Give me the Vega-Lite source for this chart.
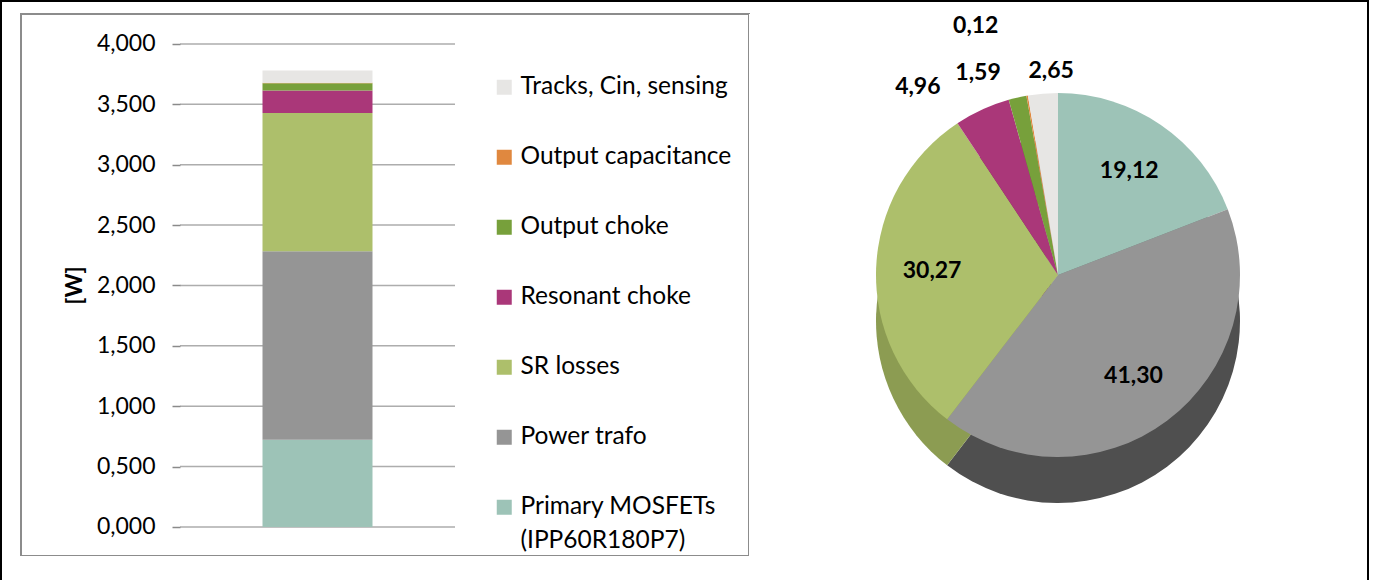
{
  "$schema": "https://vega.github.io/schema/vega-lite/v6.json",
  "background": "black",
  "padding": {"left": 2, "top": 2, "right": 2, "bottom": 0},
  "config": {
    "font": "Lato",
    "view": {"stroke": null},
    "style": {"guide-label": {"lineHeight": 34}},
    "locale": {"number": {"decimal": ",", "thousands": ".", "grouping": [3], "currency": ["", " €"]}}
  },
  "datasets": {
    "losses": [
      {"component": "Primary MOSFETs (IPP60R180P7)", "idx": 1, "loss": 0.723, "pct": 19.12},
      {"component": "Power trafo", "idx": 2, "loss": 1.561, "pct": 41.30},
      {"component": "SR losses", "idx": 3, "loss": 1.144, "pct": 30.27},
      {"component": "Resonant choke", "idx": 4, "loss": 0.187, "pct": 4.96},
      {"component": "Output choke", "idx": 5, "loss": 0.060, "pct": 1.59},
      {"component": "Output capacitance", "idx": 6, "loss": 0.005, "pct": 0.12},
      {"component": "Tracks, Cin, sensing", "idx": 7, "loss": 0.100, "pct": 2.65}
    ],
    "grid": [{"g": 0}, {"g": 0.5}, {"g": 1}, {"g": 1.5}, {"g": 2}, {"g": 2.5}, {"g": 3}, {"g": 3.5}, {"g": 4}],
    "none": []
  },
  "columns": 3,
  "spacing": 0,
  "bounds": "flush",
  "concat": [
    {"width": 19, "height": 12, "view": {"fill": "white", "stroke": null}, "data": {"name": "none"}, "mark": "rect", "encoding": {}},
    {"width": 728, "height": 12, "view": {"fill": "white", "stroke": null}, "data": {"name": "none"}, "mark": "rect", "encoding": {}},
    {"width": 618, "height": 12, "view": {"fill": "white", "stroke": null}, "data": {"name": "none"}, "mark": "rect", "encoding": {}},
    {"width": 19, "height": 542, "view": {"fill": "white", "stroke": null}, "data": {"name": "none"}, "mark": "rect", "encoding": {}},
    {
      "width": 728,
      "height": 542,
      "view": {"fill": "white", "stroke": "#8c8c8c", "strokeWidth": 2},
      "layer": [
        {
          "data": {"name": "grid"},
          "mark": {"type": "tick", "color": "#8a8a8a", "thickness": 1.5, "size": 275},
          "encoding": {
            "x": {"datum": "Total", "type": "nominal", "scale": {"paddingInner": 0, "paddingOuter": 0.82364, "align": 0.35099}, "axis": null},
            "y": {
              "field": "g", "type": "quantitative",
              "scale": {"domain": [-0.2402, 4.2484], "nice": false, "zero": false},
              "axis": {
                "values": [0, 0.5, 1, 1.5, 2, 2.5, 3, 3.5, 4],
                "format": ".3f",
                "offset": -159,
                "grid": false,
                "domain": false,
                "title": "[W]",
                "titleFontWeight": "bold",
                "titleFontSize": 23,
                "titleColor": "black",
                "titlePadding": 10,
                "labelFontSize": 23,
                "labelColor": "black",
                "labelPadding": 17,
                "tickSize": 8,
                "tickColor": "#8a8a8a",
                "tickWidth": 1.5
              }
            }
          }
        },
        {
          "data": {"name": "none"},
          "mark": {"type": "rule", "color": "#8a8a8a", "strokeWidth": 1.5},
          "encoding": {
            "x": {"datum": "Total", "type": "nominal", "bandPosition": 0},
            "y": {"datum": 0, "type": "quantitative"},
            "y2": {"datum": 4}
          }
        },
        {
          "data": {"name": "losses"},
          "mark": {"type": "bar", "width": {"band": 0.4}},
          "encoding": {
            "x": {"datum": "Total", "type": "nominal"},
            "y": {"field": "loss", "type": "quantitative", "stack": "zero"},
            "order": {"field": "idx", "type": "quantitative"},
            "color": {
              "field": "component", "type": "nominal",
              "scale": {
                "domain": ["Tracks, Cin, sensing", "Output capacitance", "Output choke", "Resonant choke", "SR losses", "Power trafo", "Primary MOSFETs (IPP60R180P7)"],
                "range": ["#e7e6e4", "#e0883f", "#77a03b", "#aa3779", "#adbf6b", "#959595", "#9dc3b7"]
              },
              "legend": {
                "orient": "none",
                "legendX": 490,
                "legendY": 73,
                "title": null,
                "symbolType": "square",
                "symbolSize": 225,
                "symbolStrokeWidth": 0,
                "labelFontSize": 24.5,
                "labelColor": "black",
                "labelOffset": 4,
                "labelLimit": 400,
                "rowPadding": 45,
                "labelExpr": "datum.label == 'Primary MOSFETs (IPP60R180P7)' ? ['Primary MOSFETs', '(IPP60R180P7)'] : datum.label"
              }
            }
          }
        }
      ]
    },
    {
      "width": 618,
      "height": 542,
      "view": {"fill": "white", "stroke": null},
      "data": {"name": "losses"},
      "encoding": {
        "theta": {"field": "loss", "type": "quantitative", "stack": true},
        "order": {"field": "idx", "type": "quantitative"}
      },
      "layer": [
        {
          "mark": {"type": "arc", "outerRadius": 182, "yOffset": 36},
          "encoding": {
            "fill": {
              "field": "component", "type": "nominal",
              "scale": {
                "domain": ["Tracks, Cin, sensing", "Output capacitance", "Output choke", "Resonant choke", "SR losses", "Power trafo", "Primary MOSFETs (IPP60R180P7)"],
                "range": ["#aeadab", "#a0602b", "#55732a", "#7a2757", "#8c9c52", "#4f4f4f", "#6f8b83"]
              },
              "legend": null
            }
          }
        },
        {
          "mark": {"type": "arc", "outerRadius": 182, "yOffset": -10},
          "encoding": {
            "color": {
              "field": "component", "type": "nominal",
              "scale": {
                "domain": ["Tracks, Cin, sensing", "Output capacitance", "Output choke", "Resonant choke", "SR losses", "Power trafo", "Primary MOSFETs (IPP60R180P7)"],
                "range": ["#e7e6e4", "#e0883f", "#77a03b", "#aa3779", "#adbf6b", "#8f8f8f", "#9bc2b6"]
              },
              "legend": null
            }
          }
        },
        {
          "mark": {"type": "text", "radius": 126, "dy": -10, "fontSize": 23, "fontWeight": "bold", "color": "black"},
          "encoding": {"text": {"condition": {"test": "datum.idx <= 3", "field": "pct", "format": ".2f"}, "value": ""}}
        },
        {
          "mark": {"type": "text", "radius": 202, "dx": -56, "dy": -14, "fontSize": 23, "fontWeight": "bold", "color": "black"},
          "encoding": {"text": {"condition": {"test": "datum.idx == 4", "field": "pct", "format": ".2f"}, "value": ""}}
        },
        {
          "mark": {"type": "text", "radius": 202, "dx": -35, "dy": -15, "fontSize": 23, "fontWeight": "bold", "color": "black"},
          "encoding": {"text": {"condition": {"test": "datum.idx == 5", "field": "pct", "format": ".2f"}, "value": ""}}
        },
        {
          "mark": {"type": "text", "radius": 202, "dx": -48, "dy": -60, "fontSize": 23, "fontWeight": "bold", "color": "black"},
          "encoding": {"text": {"condition": {"test": "datum.idx == 6", "field": "pct", "format": ".2f"}, "value": ""}}
        },
        {
          "mark": {"type": "text", "radius": 202, "dx": 10, "dy": -13, "fontSize": 23, "fontWeight": "bold", "color": "black"},
          "encoding": {"text": {"condition": {"test": "datum.idx == 7", "field": "pct", "format": ".2f"}, "value": ""}}
        }
      ]
    },
    {"width": 19, "height": 24, "view": {"fill": "white", "stroke": null}, "data": {"name": "none"}, "mark": "rect", "encoding": {}},
    {"width": 728, "height": 24, "view": {"fill": "white", "stroke": null}, "data": {"name": "none"}, "mark": "rect", "encoding": {}},
    {"width": 618, "height": 24, "view": {"fill": "white", "stroke": null}, "data": {"name": "none"}, "mark": "rect", "encoding": {}}
  ]
}
